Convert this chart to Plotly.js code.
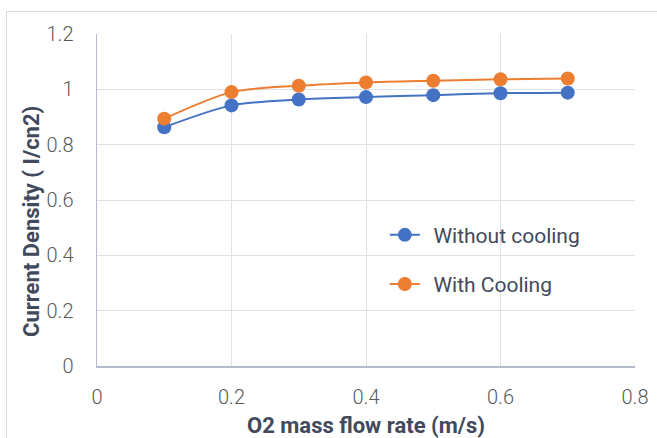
<!DOCTYPE html>
<html><head><meta charset="utf-8">
<script src="https://cdn.plot.ly/plotly-3.0.1.min.js"></script>
<style>
html,body{margin:0;padding:0;background:#fff;}
#frame{position:absolute;left:6px;top:11px;width:660px;height:440px;border:1px solid #d9d9d9;box-sizing:border-box;}
#chart{position:absolute;left:0;top:0;width:657px;height:438px;}
</style></head>
<body>
<div id="frame"></div>
<div id="chart"></div>
<script>
const flowRate = [0.1, 0.2, 0.3, 0.4, 0.5, 0.6, 0.7];
const withoutCooling = [0.863, 0.942, 0.963, 0.972, 0.979, 0.986, 0.988];
const withCooling = [0.894, 0.990, 1.013, 1.025, 1.031, 1.036, 1.039];
const seriesNames = ["Without cooling", "With Cooling"];
const xTicks = [0, 0.2, 0.4, 0.6, 0.8];
const yTicks = [0, 0.2, 0.4, 0.6, 0.8, 1, 1.2];
const xTitle = "O2 mass flow rate (m/s)";
const yTitle = "Current Density ( I/cn2)";

const tickFont = {family: "Roboto, 'Liberation Sans', sans-serif", size: 20, weight: 300, color: "#595959"};
const titleFont = {family: "Roboto, 'Liberation Sans', sans-serif", size: 22, color: "#404a5c"};
const traces = [
  {x: flowRate, y: withoutCooling, name: "\u2009\u2009" + seriesNames[0], type: "scatter", mode: "lines+markers",
   line: {color: "#4472C4", width: 2, shape: "spline", smoothing: 0.8},
   marker: {color: "#4472C4", size: 14}, legend: "legend"},
  {x: flowRate, y: withCooling, name: "\u2009\u2009" + seriesNames[1], type: "scatter", mode: "lines+markers",
   line: {color: "#ED7D31", width: 2, shape: "spline", smoothing: 0.8},
   marker: {color: "#ED7D31", size: 14}, legend: "legend2"}
];
const legendFont = {family: "Roboto, 'Liberation Sans', sans-serif", size: 21, color: "#404a5c"};
const layout = {
  width: 657, height: 438,
  margin: {l: 97, r: 22, t: 34, b: 72},
  paper_bgcolor: "rgba(0,0,0,0)", plot_bgcolor: "#fff",
  showlegend: true,
  legend: {x: 0.535, y: 0.394, xanchor: "left", yanchor: "middle", font: legendFont, bgcolor: "rgba(0,0,0,0)"},
  legend2: {x: 0.535, y: 0.246, xanchor: "left", yanchor: "middle", font: legendFont, bgcolor: "rgba(0,0,0,0)"},
  xaxis: {range: [0, 0.8], tickvals: xTicks, ticktext: xTicks.map(String), showgrid: true, gridcolor: "#dde1e8",
          zeroline: false, showline: true, linecolor: "#b4bccb", linewidth: 1.5, mirror: false, ticks: "",
          tickfont: tickFont, ticklabelstandoff: 12,
          title: {text: "<b>" + xTitle + "</b>", font: titleFont, standoff: 15}},
  yaxis: {range: [0, 1.2], tickvals: yTicks, ticktext: yTicks.map(String), showgrid: true, gridcolor: "#dde1e8",
          zeroline: false, showline: true, linecolor: "#b4bccb", linewidth: 1.5, ticks: "",
          tickfont: tickFont, ticklabelstandoff: 18},
  annotations: [{text: "<b>" + yTitle + "</b>", font: titleFont, textangle: -90,
                 xref: "paper", yref: "paper", x: 0, y: 0.5, xanchor: "center", yanchor: "middle",
                 xshift: -66, yshift: -22, showarrow: false}]
};
Plotly.newPlot("chart", traces, layout, {displayModeBar: false, staticPlot: true});
</script>
</body></html>
